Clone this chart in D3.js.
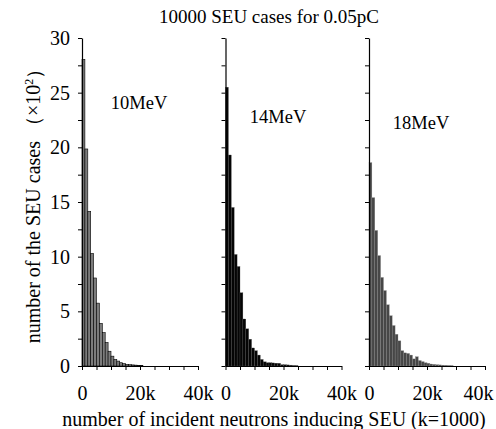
<!DOCTYPE html>
<html>
<head>
<meta charset="utf-8">
<script src="https://cdn.jsdelivr.net/npm/d3@7"></script>
<style>
  body { margin: 0; background: #fff; }
  text { font-family: "Liberation Serif", "Times New Roman", serif; }
</style>
</head>
<body>
<script>
// histogram counts (x10^2) per 1k-neutron bin
const energies = ["10MeV", "14MeV", "18MeV"];
const counts10 = [28.05, 19.85, 14.15, 10.3, 8.05, 5.75, 3.9, 3.05, 2.15, 1.35, 0.9, 0.6, 0.45, 0.3, 0.22, 0.15, 0.12, 0.1, 0.08, 0.06, 0.05];
const counts14 = [25.5, 19.3, 14.5, 10.2, 9.1, 6.7, 4.3, 3.4, 2.45, 1.65, 1.4, 1.0, 0.6, 0.38, 0.3, 0.3, 0.28, 0.26, 0.25, 0.12, 0.12, 0.1, 0.08, 0.05, 0.04];
const counts18 = [18.6, 15.4, 12.4, 10.1, 8.1, 6.9, 5.6, 4.6, 3.7, 2.9, 2.3, 1.4, 1.2, 1.15, 1.0, 0.65, 0.85, 0.5, 0.4, 0.3, 0.25, 0.18, 0.15, 0.12, 0.1, 0.08, 0.07, 0.05, 0.04];
const binWidth = 1000;
const yTicks = [0, 2.5, 5, 7.5, 10, 12.5, 15, 17.5, 20, 22.5, 25, 27.5, 30];
const xTicks = [0, 5000, 10000, 15000, 20000, 25000, 30000, 35000, 40000];
const xLabels = ["0", "20k", "40k"];

const width = 496, height = 429;
const svg = d3.select("body").append("svg").attr("width", width).attr("height", height);

const y = d3.scaleLinear().domain([0, 30]).range([366, 38]);

// panel layout
const panels = [
  { x0: 82, data: counts10, fill: "#7c7c7c", stroke: "#000", sw: 0.6, lx: 139, ly: 109 },
  { x0: 225.5, data: counts14, fill: "#050505", stroke: "#555", sw: 0.3, lx: 278, ly: 123 },
  { x0: 369, data: counts18, fill: "#474747", stroke: "#8a8a8a", sw: 0.3, lx: 421, ly: 129 }
];

panels.forEach((p, k) => {
  const x = d3.scaleLinear().domain([0, 40000]).range([p.x0, p.x0 + 116]);
  const g = svg.append("g");

  g.selectAll("rect").data(p.data).enter().append("rect")
    .attr("x", (d, i) => x(i * binWidth))
    .attr("width", x(binWidth) - x(0))
    .attr("y", d => y(d))
    .attr("height", d => y(0) - y(d))
    .attr("fill", p.fill)
    .attr("stroke", p.stroke)
    .attr("stroke-width", p.sw);

  const ya = g.append("g").attr("transform", "translate(" + p.x0 + ",0)")
    .call(d3.axisLeft(y).tickValues(yTicks).tickSize(4).tickSizeOuter(0)
      .tickFormat(d => (k === 0 && d % 5 === 0) ? d : ""));
  ya.selectAll("text").attr("font-size", 20).attr("fill", "#000").attr("dx", "-5px")
    .style("font-family", '"Liberation Serif", serif');

  const xa = g.append("g").attr("transform", "translate(0," + y(0) + ")")
    .call(d3.axisBottom(x).tickValues(xTicks).tickSize(4).tickSizeOuter(0)
      .tickFormat(d => d % 20000 === 0 ? xLabels[d / 20000] : ""));
  xa.selectAll("text").attr("font-size", 20).attr("fill", "#000").attr("dy", "1.35em")
    .style("font-family", '"Liberation Serif", serif');
  if (k === 2) xa.selectAll(".tick:last-of-type text").attr("dx", "-7px");

  [ya, xa].forEach(a => {
    a.select(".domain").attr("stroke", "#000").attr("stroke-width", 1.2);
    a.selectAll(".tick line").attr("stroke", "#000").attr("stroke-width", 1);
  });

  g.append("text").attr("x", p.lx).attr("y", p.ly).attr("text-anchor", "middle")
    .attr("font-size", 18.5).text(energies[k]);
});

svg.append("text").attr("x", 269).attr("y", 23).attr("text-anchor", "middle")
  .attr("font-size", 19).text("10000 SEU cases for 0.05pC");

svg.append("text").attr("x", 274).attr("y", 426).attr("text-anchor", "middle")
  .attr("font-size", 20).text("number of incident neutrons inducing SEU (k=1000)");

const yl = svg.append("text").attr("transform", "translate(40,201) rotate(-90)")
  .attr("text-anchor", "middle").attr("font-size", 20);
yl.append("tspan").text("number of the SEU cases （×10");
yl.append("tspan").attr("font-size", 12).attr("dy", "-0.6em").text("2");
yl.append("tspan").attr("dy", "0.4em").text("）");
</script>
</body>
</html>
